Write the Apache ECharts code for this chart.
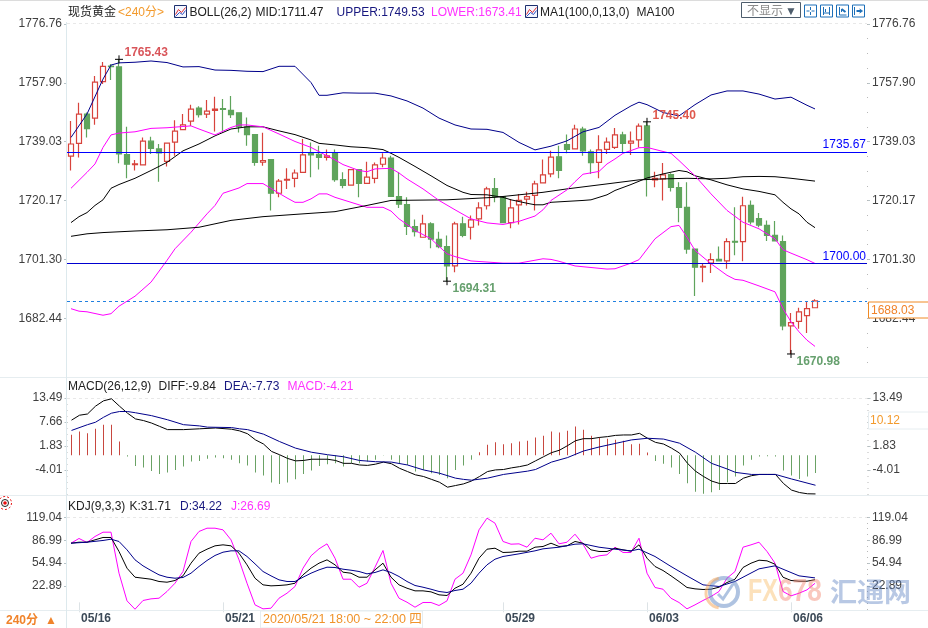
<!DOCTYPE html>
<html lang="zh">
<head>
<meta charset="utf-8" />
<title>现货黄金 240分</title>
<script src="https://cdn.jsdelivr.net/npm/echarts@6/dist/echarts.min.js"></script>
<style>
html, body { margin: 0; padding: 0; background: #fff; }
#main { width: 928px; height: 628px; }
</style>
</head>
<body>
<div id="main"></div>
<script>
// tick labels per pane
var priceTicks = [1776.76, 1757.90, 1739.03, 1720.17, 1701.30, 1682.44];
var macdTicks = [13.49, 7.66, 1.83, -4.01];
var kdjTicks = [119.04, 86.99, 54.94, 22.89];
var dateTicks = { 1: '05/16', 19: '05/21', 54: '05/29', 72: '06/03', 90: '06/06' };

// [open, close, low, high]
var candles = [
[1734.4,1738.3,1729.8,1745.7],[1738.5,1747.9,1734.0,1751.5],[1747.9,1743.2,1740.4,1748.4],[1746.6,1758.1,1744.5,1760.1],
[1758.3,1763.2,1757.5,1764.6],[1763.3,1763.1,1758.8,1763.9],[1763.0,1735.1,1732.1,1765.43],[1734.9,1731.8,1727.3,1743.8],
[1731.7,1731.9,1729.8,1733.2],[1731.6,1739.2,1731.6,1740.4],[1739.2,1736.9,1735.1,1740.6],[1736.7,1735.4,1726.2,1738.3],
[1732.7,1738.6,1731.1,1738.6],[1738.9,1742.4,1734.5,1745.9],[1742.9,1744.4,1742.9,1747.9],[1745.6,1749.5,1744.1,1750.9],
[1749.8,1747.7,1746.8,1750.4],[1747.9,1748.8,1746.6,1752.4],[1749.1,1749.5,1742.3,1753.4],[1749.6,1749.4,1742.5,1752.7],
[1749.1,1747.7,1746.6,1753.7],[1748.3,1743.8,1742.0,1748.3],[1743.8,1741.3,1737.7,1746.8],[1741.3,1732.4,1731.3,1741.5],
[1732.5,1733.0,1731.3,1741.9],[1733.3,1722.5,1717.0,1733.5],[1722.5,1726.4,1721.2,1727.1],[1726.7,1727.0,1723.9,1730.5],
[1727.3,1729.0,1724.4,1730.1],[1729.2,1734.8,1729.2,1739.9],[1735.4,1734.8,1727.6,1738.8],[1735.0,1734.0,1730.1,1737.7],
[1734.0,1734.5,1733.0,1736.5],[1735.3,1726.9,1726.2,1736.5],[1726.9,1725.0,1724.1,1729.2],[1725.1,1730.1,1724.9,1730.3],
[1730.1,1725.7,1721.2,1730.3],[1725.7,1727.7,1725.7,1732.6],[1727.3,1731.6,1725.7,1732.4],[1731.8,1733.8,1730.8,1735.3],
[1733.8,1721.5,1721.5,1734.5],[1721.4,1719.0,1717.8,1729.2],[1718.9,1711.9,1709.1,1721.2],[1711.8,1710.2,1708.6,1714.1],
[1708.4,1712.7,1708.4,1715.6],[1712.7,1707.8,1704.9,1713.2],[1707.7,1705.4,1704.9,1710.2],[1705.4,1699.2,1694.31,1709.0],
[1699.2,1712.7,1697.2,1713.4],[1712.7,1709.0,1708.4,1715.0],[1711.6,1714.0,1707.7,1715.4],[1714.3,1717.8,1712.2,1719.6],
[1718.5,1723.9,1717.3,1724.6],[1724.0,1721.4,1719.6,1727.4],[1721.4,1713.1,1713.1,1721.4],[1713.1,1717.8,1711.3,1720.7],
[1718.8,1720.2,1712.5,1722.3],[1720.6,1721.4,1718.6,1723.0],[1721.8,1725.5,1717.0,1726.5],[1725.8,1728.4,1725.8,1733.3],
[1728.7,1734.1,1727.6,1736.1],[1734.2,1729.8,1727.3,1737.7],[1738.1,1736.6,1735.3,1741.3],[1736.7,1743.1,1736.5,1744.5],
[1743.1,1736.1,1734.5,1743.8],[1735.8,1732.3,1728.7,1736.5],[1732.4,1736.4,1727.3,1741.1],[1736.6,1738.9,1735.1,1740.4],
[1737.2,1741.2,1736.7,1743.4],[1741.2,1738.5,1735.6,1742.2],[1738.6,1739.2,1734.8,1742.3],[1739.6,1744.0,1737.2,1744.9],
[1744.1,1727.3,1721.5,1745.40],[1726.8,1727.3,1724.4,1729.4],[1727.1,1728.4,1720.2,1732.2],[1728.5,1724.4,1723.1,1728.9],
[1724.3,1718.0,1713.2,1726.0],[1718.0,1704.6,1703.1,1726.0],[1704.6,1698.8,1689.6,1704.6],[1698.8,1699.1,1694.0,1699.9],
[1700.1,1701.2,1696.9,1703.3],[1701.3,1700.8,1700.8,1705.4],[1700.8,1707.0,1698.3,1708.1],[1707.1,1706.8,1702.6,1718.0],
[1707.0,1718.5,1700.7,1721.4],[1718.6,1713.3,1712.5,1720.2],[1714.4,1712.3,1711.6,1716.2],[1712.2,1709.0,1707.2,1713.8],
[1709.0,1707.2,1707.2,1713.6],[1707.0,1680.0,1678.6,1709.0],[1680.0,1681.0,1670.98,1684.1],[1681.4,1684.5,1679.1,1685.8],
[1683.3,1685.5,1677.7,1687.7],[1685.8,1688.03,1685.8,1688.5]
];

// line series: [candle number, value]
var bollUpper = [[0,1740.4],[2,1747.9],[4,1759.1],[5,1763.6],[6,1764.3],[8,1764.5],[10,1764.9],[12,1764.4],[14,1763.0],[16,1763.1],[18,1762.0],[20,1761.9],[22,1761.6],[24,1761.5],[26,1763.2],[28,1763.2],[30,1758.0],[31,1753.9],[32,1753.9],[34,1754.7],[36,1754.6],[38,1754.6],[40,1753.7],[42,1752.1],[44,1749.8],[46,1746.6],[48,1744.4],[50,1743.1],[52,1743.0],[54,1742.0],[56,1738.8],[58,1736.4],[60,1737.6],[62,1739.3],[64,1742.2],[66,1743.6],[68,1747.5],[70,1750.5],[71,1751.7],[72,1750.9],[74,1748.4],[76,1747.3],[78,1750.9],[80,1754.0],[82,1755.3],[84,1755.3],[86,1754.3],[88,1752.7],[90,1753.3],[92,1750.7],[93,1749.53]];
var bollMid = [[0,1713.1],[1,1715.0],[2,1716.3],[3,1718.6],[4,1720.4],[5,1724.1],[6,1725.3],[8,1727.3],[10,1729.8],[12,1732.4],[14,1736.1],[16,1738.3],[18,1740.9],[20,1743.1],[22,1743.8],[24,1743.8],[26,1742.5],[28,1741.3],[30,1739.6],[31,1738.5],[33,1738.0],[35,1737.4],[37,1737.1],[39,1736.5],[40,1735.3],[41,1734.0],[43,1731.1],[45,1728.1],[47,1725.0],[49,1722.8],[50,1722.1],[52,1722.0],[54,1721.2],[55,1720.4],[57,1719.3],[58,1718.8],[59,1718.8],[60,1719.6],[62,1719.9],[64,1720.2],[65,1720.4],[67,1722.0],[68,1723.4],[70,1725.3],[72,1727.4],[74,1728.7],[76,1729.8],[77,1729.4],[78,1728.1],[80,1726.8],[82,1725.2],[84,1723.9],[86,1723.1],[88,1722.0],[89,1719.6],[90,1717.5],[91,1715.9],[92,1713.2],[93,1711.47]];
var bollLower = [[0,1685.5],[1,1684.7],[2,1684.5],[4,1683.4],[5,1683.9],[6,1686.3],[8,1689.5],[10,1694.0],[12,1701.0],[13,1704.7],[15,1710.0],[17,1715.9],[18,1718.6],[19,1722.5],[21,1724.2],[22,1725.6],[24,1725.6],[26,1722.5],[27,1721.0],[28,1719.6],[29,1719.6],[30,1720.7],[31,1722.3],[32,1722.3],[33,1721.2],[35,1719.6],[37,1718.0],[39,1718.0],[40,1716.8],[41,1714.3],[42,1712.5],[43,1710.6],[45,1707.9],[47,1703.1],[48,1702.2],[50,1700.8],[54,1700.1],[56,1700.1],[59,1701.5],[60,1701.3],[61,1700.7],[63,1699.2],[67,1698.2],[68,1698.3],[70,1700.1],[71,1701.2],[73,1707.9],[75,1711.8],[76,1712.2],[77,1708.4],[78,1704.2],[80,1699.9],[82,1696.2],[83,1694.9],[84,1694.6],[86,1692.8],[88,1690.9],[89,1685.5],[90,1681.3],[91,1678.1],[92,1675.4],[93,1673.41]];
var ma100 = [[0,1708.7],[2,1709.5],[4,1709.9],[8,1710.4],[12,1710.8],[16,1711.6],[20,1713.8],[24,1715.0],[29,1715.9],[33,1716.6],[37,1718.6],[40,1720.2],[47,1720.4],[53,1721.2],[59,1722.8],[62,1723.9],[67,1725.5],[71,1726.8],[74,1727.1],[77,1727.3],[80,1727.1],[82,1727.3],[84,1727.8],[86,1727.9],[88,1727.8],[90,1727.3],[93,1726.4]];
var ma1Shifted = [[0,1724.1],[2,1729.2],[3,1731.9],[4,1737.2],[5,1741.2],[6,1741.8],[8,1742.2],[10,1743.3],[12,1743.5],[14,1743.9],[15,1744.1],[16,1743.1],[18,1741.2],[20,1743.6],[21,1744.4],[22,1744.4],[24,1743.8],[26,1741.5],[28,1739.1],[30,1737.2],[32,1734.5],[33,1733.2],[34,1731.7],[36,1729.8],[37,1729.4],[38,1730.3],[40,1730.5],[41,1729.0],[42,1727.1],[44,1723.9],[46,1720.2],[48,1717.2],[50,1714.3],[52,1713.0],[54,1712.5],[56,1713.5],[58,1715.2],[59,1717.2],[60,1720.2],[62,1723.6],[63,1726.2],[64,1728.6],[66,1729.5],[67,1731.9],[68,1733.5],[69,1735.3],[71,1737.1],[72,1737.2],[74,1735.9],[75,1735.3],[76,1733.0],[78,1728.1],[80,1722.3],[82,1717.0],[84,1713.2],[86,1711.1],[88,1707.9],[89,1704.4],[90,1703.3],[92,1701.2],[93,1700.0]];

var diff = [[0,8.1],[1,9.3],[2,9.6],[3,11.5],[4,12.8],[5,13.3],[6,11.5],[7,9.8],[8,8.4],[9,8.0],[10,7.4],[11,6.6],[12,5.8],[14,5.8],[16,6.0],[18,6.2],[20,5.9],[21,5.5],[22,4.8],[23,3.3],[24,2.3],[25,0.5],[26,-0.3],[27,-1.2],[28,-1.8],[29,-1.7],[30,-1.4],[32,-1.4],[33,-1.7],[34,-2.4],[35,-2.4],[36,-2.8],[37,-2.9],[38,-2.6],[39,-2.1],[40,-2.5],[41,-3.6],[42,-4.4],[43,-5.2],[44,-5.6],[45,-6.3],[46,-7.0],[47,-8.2],[48,-7.8],[49,-7.4],[50,-6.7],[51,-5.6],[52,-4.4],[53,-4.0],[54,-3.9],[55,-3.5],[56,-3.2],[57,-2.8],[58,-1.8],[59,-0.8],[60,0.2],[61,0.8],[62,1.9],[63,3.1],[64,3.6],[65,3.6],[66,3.9],[67,4.1],[68,4.4],[69,4.5],[70,4.5],[71,4.9],[72,3.7],[73,2.7],[74,2.3],[75,1.3],[76,0.1],[77,-2.4],[78,-4.3],[79,-5.6],[80,-6.7],[81,-7.3],[82,-7.3],[83,-7.3],[84,-6.0],[85,-5.4],[86,-5.1],[87,-5.1],[88,-5.1],[89,-7.3],[90,-8.9],[91,-9.5],[92,-9.8],[93,-9.84]];
var dea = [[0,5.6],[2,7.0],[3,7.6],[4,8.8],[5,9.8],[6,10.2],[7,10.2],[8,9.9],[10,9.2],[12,8.2],[14,7.0],[16,6.7],[17,6.4],[20,6.3],[21,6.0],[22,5.8],[24,4.7],[26,2.9],[28,1.3],[30,0.3],[32,-0.3],[34,-0.8],[36,-1.7],[38,-2.0],[40,-2.1],[42,-2.8],[44,-4.0],[46,-4.8],[48,-6.0],[49,-6.3],[50,-6.5],[52,-6.0],[54,-5.1],[57,-4.3],[58,-3.9],[60,-2.1],[62,-1.0],[64,0.6],[66,1.6],[70,3.3],[72,3.7],[74,3.5],[76,2.5],[78,0.3],[80,-2.4],[82,-3.8],[83,-4.6],[85,-5.1],[88,-5.1],[90,-6.2],[93,-7.73]];
var macdBars = [4.84,5.64,5.24,6.27,7.23,7.23,3.26,-0.32,-2.54,-2.94,-3.73,-4.45,-4.13,-3.49,-2.70,-1.51,-1.35,-0.87,-0.56,-0.71,-1.11,-1.91,-2.46,-4.13,-4.84,-6.51,-6.83,-6.51,-5.72,-4.45,-3.65,-2.54,-2.14,-1.91,-2.70,-1.91,-1.91,-1.51,-1.11,-0.1,-1.11,-1.91,-2.30,-3.89,-3.49,-4.29,-4.68,-5.48,-3.49,-2.46,-1.11,0.71,2.46,3.10,2.62,2.86,3.26,3.41,4.21,4.61,5.64,5.40,5.80,6.83,6.03,4.61,4.29,3.89,3.65,3.41,2.62,2.70,0.64,-1.35,-2.06,-2.94,-4.45,-6.67,-8.65,-9.13,-8.81,-8.26,-6.43,-5.08,-2.46,-1.11,-0.32,-0.24,-0.32,-3.65,-4.84,-5.64,-5.08,-4.21];

var kdjK = [82.8,84.2,84.2,87.5,90.8,90.8,71.2,47.8,35.2,33.8,32.4,29.2,28.2,30.6,37.1,54.8,68.8,74.4,79.1,80.5,79.1,68.8,52.5,33.8,24.5,23.1,23.6,24.5,26.8,38.5,47.8,54.8,59.5,52.5,42.2,40.8,35.2,35.2,45.5,54.8,35.2,24.5,19.8,16.1,16.1,14.7,10.5,9.6,19.8,25.4,40.8,61.8,74.4,75.8,69.8,70.2,71.6,71.6,77.2,78.2,82.8,78.2,79.1,85.2,82.8,73.5,71.2,71.2,75.8,73.5,71.6,80.5,61.8,50.2,44.6,37.1,29.2,20.8,18.9,18.0,18.4,21.2,27.8,32.4,48.8,54.8,59.0,58.1,53.4,35.2,30.6,29.6,29.6,31.71];
var kdjD = [[0,82.8],[2,84.2],[4,86.6],[5,88.4],[6,85.2],[7,73.5],[8,59.5],[9,51.1],[10,44.6],[11,38.5],[12,35.2],[13,33.8],[14,34.8],[15,40.8],[16,50.2],[17,58.6],[18,65.6],[19,70.2],[20,72.1],[21,72.1],[22,64.2],[23,53.9],[24,43.2],[25,37.1],[26,31.5],[27,29.2],[28,29.2],[29,35.2],[30,40.8],[31,45.5],[32,49.2],[33,48.8],[34,46.4],[35,45.0],[36,43.2],[37,39.9],[38,41.8],[39,45.5],[40,41.8],[41,36.2],[42,29.2],[43,23.6],[44,21.2],[45,18.4],[46,15.2],[47,13.8],[48,16.6],[49,18.4],[50,26.8],[51,40.8],[52,52.5],[53,60.4],[54,64.2],[56,67.9],[58,72.1],[59,74.9],[61,77.2],[63,81.4],[64,81.9],[66,77.2],[68,74.4],[70,72.1],[71,74.4],[73,64.2],[75,50.2],[77,37.1],[79,24.5],[81,22.2],[83,29.2],[84,35.2],[86,46.9],[88,51.1],[89,46.4],[91,37.1],[93,34.22]];
var kdjJ = [82.8,89.4,83.8,92.2,98.2,98.2,40.8,2.1,-9.6,2.6,4.9,5.8,15.2,26.8,43.2,85.2,99.2,103.8,103.8,101.5,87.5,59.5,26.8,-3.5,-9.1,-8.2,5.8,12.8,22.2,47.8,65.1,74.9,81.9,61.8,32.4,32.4,21.2,26.8,49.2,72.6,26.8,5.8,0.2,-6.8,-0.2,-0.2,-4.4,2.1,32.4,40.8,66.5,101.5,117.8,110.8,85.2,81.4,81.9,77.2,89.8,87.5,96.8,81.9,84.2,95.4,81.4,61.8,65.1,66.5,77.2,69.8,69.8,89.8,40.8,20.8,18.4,5.8,-0.2,-9.1,-3.5,2.6,8.2,15.2,33.8,43.2,77.2,80.5,84.2,71.2,54.8,15.2,9.1,12.8,17.5,26.69];

var lineA = 1735.67, lineB = 1700.00, lastPrice = 1688.03;
var extremes = [
	{ at: 6, value: 1765.43, color: '#d9555a', pos: [12, -6] },
	{ at: 72, value: 1745.40, color: '#e0584c', pos: [12, -6] },
	{ at: 47, value: 1694.31, color: '#66a06e', pos: [12, 8] },
	{ at: 90, value: 1670.98, color: '#66a06e', pos: [12, 8] }
];

var FONT = '"Liberation Sans","Noto Sans CJK SC",sans-serif';
var RED = '#d8433c', GREEN = '#5fa45c';
var NAVY = '#00008b', MAGENTA = '#ff00ff';

var categories = [];
for (var n = 0; n < 100; n++) categories.push(dateTicks[n] || '');

function minorTicks(ticks, min) {
	var step = (ticks[0] - ticks[1]) / 4, out = [];
	for (var v = ticks[0]; v > min; v -= step) out.push(v);
	return out;
}

function paneAxes(gridIndex, min, max, ticks, labelDrop) {
	var base = { type: 'value', gridIndex: gridIndex, min: min, max: max, splitLine: { show: false }, axisLine: { show: false } };
	var label = { show: true, customValues: ticks, color: '#3f3f3f', fontSize: 12, fontFamily: FONT, margin: 5, padding: [labelDrop, 0, 0, 0], showMinLabel: true, showMaxLabel: true, formatter: function (v) { return v.toFixed(2); } };
	function major(pos) {
		return Object.assign({}, base, { position: pos, axisLabel: label, axisTick: { show: true, customValues: ticks, length: 3, lineStyle: { color: '#b8c4c8' } } });
	}
	function minor(pos) {
		return Object.assign({}, base, { position: pos, axisLabel: { show: false }, axisTick: { show: true, customValues: minorTicks(ticks, min), length: 1, lineStyle: { color: '#b8b8b8' } } });
	}
	return [major('left'), major('right'), minor('left'), minor('right')];
}

function xAxisFor(gridIndex, showLabels) {
	var hit = function (i, v) { return v !== ''; };
	return {
		type: 'category', gridIndex: gridIndex, data: categories,
		axisLine: { show: false },
		axisTick: showLabels ? { show: true, alignWithLabel: true, interval: hit, length: 10, lineStyle: { color: '#dde3e6' } } : { show: false },
		axisLabel: showLabels ? { show: true, interval: hit, align: 'left', margin: 3, padding: [0, 0, 0, 2], color: '#3c4a58', fontWeight: 'bold', fontSize: 12, fontFamily: FONT } : { show: false },
		splitLine: { show: false }
	};
}

function lineSeries(name, data, color, xIdx, yIdx, z) {
	return {
		name: name, type: 'line', data: data, xAxisIndex: xIdx, yAxisIndex: yIdx, z: z || 5,
		showSymbol: false, smooth: false, silent: true, animation: false,
		lineStyle: { color: color, width: 1 }
	};
}

function numbered(values) {
	return values.map(function (v, i) { return [i, v]; });
}

// graphic helpers for header text and chrome
function txt(x, y, text, fill, font, align) {
	return { type: 'text', z: 100, silent: true, style: { x: x, y: y, text: text, fill: fill, font: font || ('12px ' + FONT), textAlign: align || 'left', textVerticalAlign: 'middle', verticalAlign: 'middle' } };
}
function squeezed(x, y, text, fill, font, scale) {
	return { type: 'text', z: 8, silent: true, x: x, y: y, scaleX: scale, style: { x: 0, y: 0, text: text, fill: fill, font: font, textVerticalAlign: 'middle', verticalAlign: 'middle' } };
}
function hline(y, x1, x2, color, dash) {
	return { type: 'line', z: 1, silent: true, shape: { x1: x1, y1: y, x2: x2, y2: y }, style: { stroke: color, lineWidth: 1, lineDash: dash || null } };
}
function seg(x1, y1, x2, y2, color, lw) {
	return { type: 'line', z: 101, silent: true, shape: { x1: x1, y1: y1, x2: x2, y2: y2 }, style: { stroke: color, lineWidth: lw || 1 } };
}
function box(x, y, w, h, stroke, fill) {
	return { type: 'rect', z: 99, silent: true, shape: { x: x, y: y, width: w, height: h }, style: { stroke: stroke, fill: fill || '#fff', lineWidth: 1 } };
}
function miniChartIcon(x, y) {
	return [
		box(x, y, 12, 12, '#1c2f6e', '#f4f6ff'),
		{ type: 'polyline', z: 101, silent: true, shape: { points: [[x + 1, y + 9], [x + 4, y + 4], [x + 7, y + 7], [x + 11, y + 2]] }, style: { stroke: '#e03030', fill: null, lineWidth: 1 } },
		{ type: 'polyline', z: 101, silent: true, shape: { points: [[x + 1, y + 11], [x + 5, y + 7], [x + 8, y + 9], [x + 11, y + 5]] }, style: { stroke: '#3050c0', fill: null, lineWidth: 1 } }
	];
}
function toolIcon(x, glyph) {
	var c = '#1d6fb8', y = 5, out = [box(x, y, 12, 12, c, '#fff')];
	glyph.forEach(function (g) { out.push(seg(x + g[0], y + g[1], x + g[2], y + g[3], c, g[4] || 1)); });
	return out;
}

var chrome = [].concat(
	[
		hline(0.5, 0, 928, '#dcdcdc'),
		hline(23.5, 67, 867, '#e8e8e8', [3, 3]), hline(398.5, 67, 867, '#e8e8e8', [3, 3]), hline(517.5, 67, 867, '#e8e8e8', [3, 3]),
		hline(377.5, 0, 928, '#e6edf0'), hline(495.5, 0, 928, '#e6edf0'), hline(610.5, 0, 928, '#e6edf0'),
		{ type: 'line', z: 1, silent: true, shape: { x1: 66.5, y1: 22, x2: 66.5, y2: 628 }, style: { stroke: '#dde9ed', lineWidth: 1 } },

		txt(68, 13, '现货黄金', '#222'),
		txt(118, 13, '<240分>', '#f39a2c'),
		txt(189.5, 13, 'BOLL(26,2)', '#222'),
		txt(255.5, 13, 'MID:1711.47', '#222'),
		txt(336.5, 13, 'UPPER:1749.53', '#17177f'),
		txt(431, 13, 'LOWER:1673.41', '#ff33ff'),
		txt(540, 13, 'MA1(100,0,13,0)', '#222'),
		txt(636.5, 13, 'MA100', '#222'),

		box(741.5, 2.5, 59, 15, '#4e5d6c'),
		txt(747, 11.5, '不显示', '#8a8a8a'),
		txt(785, 11.5, '▼', '#4e5d6c'),

		txt(68, 387, 'MACD(26,12,9)', '#222'),
		txt(158.5, 387, 'DIFF:-9.84', '#222'),
		txt(224, 387, 'DEA:-7.73', '#17177f'),
		txt(287.5, 387, 'MACD:-4.21', '#ff33ff'),

		txt(68, 507, 'KDJ(9,3,3)', '#222'),
		txt(129.5, 507, 'K:31.71', '#222'),
		txt(180, 507, 'D:34.22', '#17177f'),
		txt(231, 507, 'J:26.69', '#ff33ff'),

		box(868.5, 302, 62, 16, '#f08a24'),
		txt(871, 310.5, lastPrice.toFixed(2), '#f0832a'),
		box(868.5, 412, 62, 17, '#e6edf0'),
		txt(870, 421, '10.12', '#f39a2c'),

		txt(6, 621, '240分', '#f0832a', 'bold 12px ' + FONT),
		txt(45, 621, '▲', '#f0832a', 'bold 12px ' + FONT),
		box(260.5, 611, 162, 17, '#e6edf0'),
		txt(263, 619.5, '2020/05/21 18:00 ~ 22:00 四', '#f0932a', '12.5px ' + FONT),

		{ type: 'circle', z: 101, silent: true, shape: { cx: 5, cy: 503, r: 6.5 }, style: { stroke: '#e81010', fill: null, lineWidth: 1, lineDash: [2, 2] } },
		{ type: 'circle', z: 101, silent: true, shape: { cx: 5, cy: 503, r: 3.5 }, style: { stroke: '#222', fill: '#fff', lineWidth: 1 } },
		{ type: 'circle', z: 102, silent: true, shape: { cx: 5, cy: 503, r: 1.8 }, style: { fill: '#e81010' } },

		// watermark
		{ type: 'arc', z: 8, silent: true, shape: { cx: 724, cy: 592, r: 14, startAngle: 0, endAngle: Math.PI * 2 }, style: { stroke: 'rgba(95,135,195,0.5)', fill: null, lineWidth: 4 } },
		{ type: 'arc', z: 8, silent: true, shape: { cx: 721, cy: 593, r: 15, startAngle: Math.PI * 0.55, endAngle: Math.PI * 1.45 }, style: { stroke: 'rgba(245,170,95,0.55)', fill: null, lineWidth: 3 } },
		{ type: 'polyline', z: 8, silent: true, shape: { points: [[718, 594], [723, 599], [733, 584]] }, style: { stroke: 'rgba(95,135,195,0.5)', fill: null, lineWidth: 3 } },
		squeezed(748, 592, 'FX', 'rgba(250,195,120,0.5)', 'bold 32px ' + FONT, 0.73),
		squeezed(778, 592, '678', 'rgba(240,125,100,0.42)', 'bold 32px ' + FONT, 0.82),
		txt(830, 592, '汇通网', 'rgba(85,125,190,0.42)', 'bold 27px "Noto Sans CJK SC",sans-serif')
	],
	miniChartIcon(174.5, 5.5),
	miniChartIcon(525.5, 5.5),
	toolIcon(804.5, [[6, 2, 6, 5], [6, 7, 6, 10], [2, 6, 5, 6], [7, 6, 10, 6]]),
	toolIcon(820.5, [[3, 2, 3, 10], [9, 2, 9, 10], [3, 8, 9, 8], [5, 4, 5, 7]]),
	toolIcon(836.5, [[3, 2, 3, 10], [3, 10, 10, 10], [5, 4, 9, 7, 2], [5, 7, 5, 4]]),
	toolIcon(852.5, [[2, 2, 2, 10], [4, 6, 9, 6, 2], [7, 4, 10, 6], [7, 8, 10, 6]])
);

// y axes 0-3 price, 4-7 macd, 8 histogram, 9-12 kdj
var yAxes = [].concat(
	paneAxes(0, 1663.6, 1776.76, priceTicks, 0),
	paneAxes(1, -10.1, 13.49, macdTicks, 2),
	[{ type: 'value', gridIndex: 1, min: -9.45, max: 13.58, show: false, splitLine: { show: false } }],
	paneAxes(2, -10.7, 119.04, kdjTicks, 2)
);

var PLUS = 'path://M4 0V8M0 4H8';

var option = {
	animation: false,
	backgroundColor: '#fff',
	textStyle: { fontFamily: FONT },
	grid: [
		{ left: 67, width: 800, top: 24, height: 353 },
		{ left: 67.5, width: 800, top: 398, height: 97 },
		{ left: 67, width: 800, top: 517.3, height: 92.7 }
	],
	xAxis: [xAxisFor(0, false), xAxisFor(1, false), xAxisFor(2, true)],
	yAxis: yAxes,
	series: [
		{
			name: '现货黄金', type: 'candlestick', data: candles, xAxisIndex: 0, yAxisIndex: 0, z: 3,
			barWidth: 6, silent: true, animation: false,
			itemStyle: { color: '#fff', color0: GREEN, borderColor: RED, borderColor0: GREEN, borderWidth: 1.2 },
			markPoint: {
				silent: true, animation: false, z: 9,
				symbol: 'rect', symbolSize: 8,
				data: extremes.map(function (e) {
					return {
						coord: [e.at, e.value], symbol: PLUS, symbolSize: 8,
						itemStyle: { color: 'none', borderColor: '#000', borderWidth: 1 },
						label: { show: true, position: e.pos, formatter: e.value.toFixed(2), color: e.color, fontWeight: 'bold', fontSize: 12, fontFamily: FONT }
					};
				})
			},
			markLine: {
				silent: true, animation: false, symbol: 'none', z: 6,
				data: [
					{ yAxis: lineA, lineStyle: { color: '#0000ff', width: 1, type: 'solid', opacity: 1 }, label: { show: true, position: 'insideEndTop', formatter: lineA.toFixed(2), color: '#0000ff', fontSize: 12, fontFamily: FONT, distance: 1 } },
					{ yAxis: lineB, lineStyle: { color: '#0000d0', width: 1, type: 'solid', opacity: 1 }, label: { show: true, position: 'insideEndTop', formatter: lineB.toFixed(2), color: '#0000ff', fontSize: 12, fontFamily: FONT, distance: 1 } },
					{ yAxis: lastPrice, lineStyle: { color: '#2080e0', width: 1, type: [3, 3] }, label: { show: false } }
				]
			}
		},
		lineSeries('UPPER', bollUpper, NAVY, 0, 0),
		lineSeries('MID', bollMid, '#000', 0, 0),
		lineSeries('LOWER', bollLower, MAGENTA, 0, 0),
		lineSeries('MA100', ma100, '#000', 0, 0),
		lineSeries('MA1', ma1Shifted, MAGENTA, 0, 0),
		{
			name: 'MACD', type: 'bar', data: macdBars, xAxisIndex: 1, yAxisIndex: 8, barWidth: 1, silent: true, animation: false, z: 3,
			itemStyle: { color: function (p) { return p.value >= 0 ? '#c8473f' : '#6aa265'; } }
		},
		lineSeries('DIFF', diff, '#000', 1, 4),
		lineSeries('DEA', dea, NAVY, 1, 4),
		lineSeries('J', numbered(kdjJ), MAGENTA, 2, 9),
		lineSeries('K', numbered(kdjK), '#000', 2, 9),
		lineSeries('D', kdjD, NAVY, 2, 9)
	],
	graphic: { elements: chrome }
};

var myChart = echarts.init(document.getElementById('main'), null, { renderer: 'canvas' });
myChart.setOption(option);
</script>
</body>
</html>
